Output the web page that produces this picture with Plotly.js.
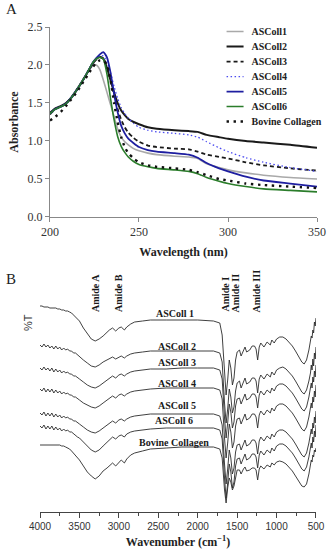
<!DOCTYPE html>
<html><head><meta charset="utf-8">
<script src="https://cdn.plot.ly/plotly-3.0.1.min.js"></script>
<style>html,body{margin:0;padding:0;background:#fff}#chart{width:328px;height:550px}</style>
</head><body><div id="chart"></div>
<script>
// ---------- Panel A: UV absorbance ----------
const wavelength = [200,203,206,209,212,215,218,221,224,226,228,230,232,234,236,238,240,242,244,247,250,255,260,270,278,283,288,295,300,310,320,335,350];
const uvASColl1 = [1.36,1.42,1.45,1.50,1.58,1.68,1.79,1.90,1.99,2.00,1.94,1.80,1.64,1.48,1.32,1.16,1.05,0.99,0.95,0.90,0.87,0.84,0.82,0.80,0.79,0.77,0.70,0.65,0.62,0.58,0.55,0.52,0.50];
const uvASColl2 = [1.37,1.43,1.46,1.50,1.57,1.67,1.78,1.90,2.02,2.08,2.11,2.08,1.96,1.80,1.64,1.50,1.40,1.34,1.29,1.25,1.22,1.18,1.16,1.14,1.13,1.12,1.08,1.05,1.03,1.00,0.98,0.95,0.91];
const uvASColl3 = [1.35,1.42,1.45,1.49,1.57,1.67,1.78,1.90,2.02,2.07,2.10,2.09,1.98,1.80,1.60,1.42,1.28,1.18,1.11,1.04,0.99,0.94,0.92,0.90,0.89,0.86,0.82,0.79,0.77,0.72,0.68,0.64,0.61];
const uvASColl4 = [1.36,1.42,1.45,1.49,1.57,1.67,1.78,1.90,2.03,2.08,2.12,2.12,2.04,1.90,1.72,1.56,1.44,1.36,1.30,1.23,1.18,1.14,1.12,1.10,1.08,1.05,0.99,0.91,0.86,0.78,0.72,0.65,0.60];
const uvASColl5 = [1.36,1.42,1.45,1.49,1.57,1.67,1.78,1.90,2.03,2.09,2.14,2.17,2.10,1.90,1.62,1.38,1.20,1.10,1.03,0.97,0.92,0.88,0.86,0.84,0.82,0.78,0.71,0.64,0.60,0.53,0.48,0.44,0.40];
const uvASColl6 = [1.36,1.42,1.45,1.49,1.57,1.67,1.78,1.90,2.03,2.08,2.10,2.08,1.88,1.56,1.28,1.06,0.93,0.85,0.79,0.73,0.69,0.66,0.64,0.62,0.60,0.57,0.52,0.47,0.44,0.40,0.37,0.35,0.33];
const uvBovine = [1.27,1.32,1.38,1.46,1.55,1.64,1.75,1.86,1.97,2.03,2.06,2.06,2.00,1.80,1.50,1.25,1.05,0.92,0.84,0.77,0.72,0.68,0.66,0.64,0.62,0.59,0.55,0.50,0.48,0.44,0.42,0.40,0.38];
const uvNames = ['ASColl1','ASColl2','ASColl3','ASColl4','ASColl5','ASColl6','Bovine Collagen'];

// ---------- Panel B: FTIR (offset %T, arbitrary units) ----------
const wavenumber = [4000,3975,3950,3925,3900,3875,3850,3825,3800,3775,3750,3725,3700,3675,3650,3625,3600,3575,3550,3525,3500,
 3450,3400,3350,3300,3250,3200,3150,3120,3080,3040,3000,2970,2930,2900,2850,2800,
 2700,2600,2400,2200,2000,1800,
 1720,1690,1660,1640,1620,1600,1580,1560,1540,1520,1500,1470,1450,1420,1400,1380,1340,1310,1280,1260,1240,1220,1200,1160,1120,1080,1060,1030,1000,960,920,880,840,800,760,720,680,650,620,590,
 570,560,550,540,530,520,510,500];
const irASColl1 = [244,244,243,243,243,242,242,242,242,241,241,240,240,239,239,238,237,235,233,231,229,
 222,216,211,209,211,214,218,220,222,219,222,223,220,223,226,228,
 229,230,230,230,230,229,
 227,215,175,155,170,190,182,165,172,190,198,200,194,200,203,198,200,204,204,201,190,203,207,203,208,205,210,207,211,213,213,211,208,204,199,193,188,186,190,200,
 208,214,212,220,217,228,224,232];
const irASColl2 = [205,203,206,203,205,202,204,201,204,201,203,200,202,200,201,199,199,197,197,195,194,
 190,187,184,183,185,188,190,191,193,191,193,194,192,194,196,197,
 198,199,199,199,199,199,
 197,188,147,127,141,161,153,137,143,159,167,169,162,169,172,166,168,172,172,169,157,171,175,171,176,173,178,175,180,182,183,181,178,174,169,163,158,156,160,169,
 177,185,180,191,184,197,191,203];
const irASColl3 = [182,180,183,180,182,179,182,178,181,178,180,177,179,177,178,176,176,174,174,172,171,
 168,165,163,162,164,167,170,171,174,172,175,176,174,176,178,179,
 180,181,181,182,182,182,
 180,171,132,112,127,146,138,122,128,144,151,152,146,153,156,150,152,156,156,153,142,155,159,155,160,157,162,159,164,166,166,164,161,157,152,146,141,139,143,153,
 161,167,162,173,168,179,173,185];
const irASColl4 = [161,159,162,158,161,158,161,157,160,157,159,156,158,156,157,155,155,153,153,151,150,
 147,145,143,142,144,147,150,151,154,152,155,156,154,156,158,159,
 160,161,162,162,162,162,
 160,151,112,92,107,126,118,102,108,124,131,132,126,133,136,130,132,136,136,133,122,135,139,135,140,137,142,139,144,146,146,144,141,137,132,126,121,119,123,133,
 141,147,142,153,148,159,153,165];
const irASColl5 = [137,135,138,134,137,134,137,133,136,133,135,132,134,132,133,131,131,129,129,127,126,
 123,120,118,117,119,122,125,126,129,127,130,131,129,131,133,134,
 135,136,136,136,136,136,
 134,125,86,66,81,100,92,76,82,98,105,106,100,107,110,104,106,110,110,107,96,109,113,109,114,111,116,113,118,120,120,118,115,111,106,100,95,93,97,107,
 115,121,116,127,122,133,127,139];
const irASColl6 = [124,122,125,121,124,121,124,120,123,120,122,119,121,119,120,118,118,116,115,113,112,
 108,104,100,98,100,104,108,110,113,111,114,115,113,116,118,119,
 120,121,122,122,122,122,
 120,111,72,52,67,86,78,62,68,84,91,92,86,93,96,90,92,96,96,93,82,95,99,95,100,97,102,99,104,106,106,104,101,97,92,86,81,79,83,93,
 101,107,102,113,108,119,113,125];
const irBovine = [105,105,105,105,105,105,105,105,105,105,105,104,104,103,102,101,99,97,95,93,90,
 84,78,74,71,74,79,82,84,87,84,88,90,87,91,95,97,
 99,101,102,103,103,103,
 101,92,60,47,62,72,68,60,64,74,80,80,76,81,83,79,80,82,82,80,70,81,84,81,85,83,87,85,88,89,88,86,83,79,74,69,64,63,66,76,
 84,90,88,95,93,100,98,102];
const irLabels = ['ASColl 1','ASColl 2','ASColl 3','ASColl 4','ASColl 5','ASColl 6','Bovine Collagen'];
const amideLabels = ['Amide A','Amide B','Amide I','Amide II','Amide III'];
const amidePositions = [3303,3011,1641,1515,1249];

const serif = 'Liberation Serif, Times New Roman, serif';
const sans = 'Liberation Sans, Arial, sans-serif';

const uvSeries = [uvASColl1,uvASColl2,uvASColl3,uvASColl4,uvASColl5,uvASColl6,uvBovine];
const uvStyles = [
  {color:'#a9a9a9', width:1.6},
  {color:'#1a1a1a', width:2},
  {color:'#1a1a1a', width:1.8, dash:'4px,3px'},
  {color:'#4b4bf0', width:1.3, dash:'1.5px,2.5px'},
  {color:'#1e1ea0', width:1.8},
  {color:'#2b7d2b', width:1.6},
  {color:'#111111', width:2.4, dash:'2.4px,4.6px'}
];
const traces = [];
uvSeries.forEach((s,i)=>{
  traces.push({x:wavelength, y:s, type:'scatter', mode:'lines', name:uvNames[i],
    line:Object.assign({shape:'spline', smoothing:0.5}, uvStyles[i]), xaxis:'x', yaxis:'y'});
});
const irSeries = [irASColl1,irASColl2,irASColl3,irASColl4,irASColl5,irASColl6,irBovine];
irSeries.forEach((s,i)=>{
  traces.push({x:wavenumber, y:s, type:'scatter', mode:'lines', name:irLabels[i], showlegend:false,
    line:{color:'#2b2b2b', width:0.9}, xaxis:'x2', yaxis:'y2'});
});

// label anchor points (text positions) for FTIR curves
const irLabelX = [2288,2263,2263,2263,2263,2300,2295];
const irLabelY = [237,204,188,167,145,130,108];

const annotations = [];
annotations.push({text:'A', xref:'paper', yref:'paper', x:0.012, y:0.983, xanchor:'left', yanchor:'middle', showarrow:false, font:{family:serif, size:15, color:'#222'}});
annotations.push({text:'B', xref:'paper', yref:'paper', x:0.012, y:0.4927, xanchor:'left', yanchor:'middle', showarrow:false, font:{family:serif, size:15, color:'#222'}});
annotations.push({text:'%T', xref:'paper', yref:'paper', x:0.0854, y:0.4127, xanchor:'center', yanchor:'middle', textangle:-90, showarrow:false, font:{family:sans, size:11, color:'#333'}});
irLabels.forEach((t,i)=>{
  annotations.push({text:t, xref:'x2', yref:'y2', x:irLabelX[i], y:irLabelY[i], xanchor:'center', yanchor:'middle', showarrow:false, font:{family:serif, size:10, color:'#1a1a1a', weight:700}});
});
amideLabels.forEach((t,i)=>{
  annotations.push({text:t, xref:'x2', yref:'paper', x:amidePositions[i], y:0.429, xanchor:'center', yanchor:'bottom', textangle:-90, showarrow:false, font:{family:serif, size:10, color:'#1a1a1a', weight:700}});
});

const layout = {
  width:328, height:550, margin:{l:0,r:0,t:0,b:0},
  paper_bgcolor:'#ffffff', plot_bgcolor:'rgba(0,0,0,0)',
  showlegend:true,
  legend:{x:0.645, y:0.969, xanchor:'left', yanchor:'top', bgcolor:'rgba(0,0,0,0)', borderwidth:0,
    font:{family:serif, size:10, color:'#222', weight:700}, tracegroupgap:0},
  xaxis:{domain:[0.1524,0.9665], range:[200,350], tickvals:[200,250,300,350], ticks:'outside', ticklen:4, tickcolor:'#888',
    showline:true, linecolor:'#888', linewidth:1, showgrid:false, zeroline:false, anchor:'y',
    tickfont:{family:serif, size:12, color:'#333'},
    title:{text:'Wavelength (nm)', font:{family:serif, size:12, color:'#222', weight:700}, standoff:9}},
  yaxis:{domain:[0.6055,0.9509], range:[0,2.5], dtick:0.5, tickformat:'.1f', ticks:'outside', ticklen:4, tickcolor:'#888',
    showline:true, linecolor:'#888', linewidth:1, showgrid:false, zeroline:false, anchor:'x',
    tickfont:{family:serif, size:12, color:'#333'},
    title:{text:'Absorbance', font:{family:serif, size:12, color:'#222', weight:700}, standoff:6}},
  xaxis2:{domain:[0.122,0.9634], range:[4000,500], tick0:500, dtick:500, ticks:'outside', ticklen:5, tickcolor:'#444',
    minor:{dtick:250, ticks:'outside', ticklen:3, tickcolor:'#444'},
    showline:true, linecolor:'#444', linewidth:1, showgrid:false, zeroline:false, anchor:'y2',
    tickfont:{family:sans, size:10, color:'#333'},
    title:{text:'Wavenumber (cm<sup>−1</sup>)', font:{family:serif, size:12, color:'#222', weight:700}, standoff:6}},
  yaxis2:{domain:[0.0691,0.4727], range:[38,260], visible:false, anchor:'x2'},
  annotations:annotations
};
Plotly.newPlot('chart', traces, layout, {displayModeBar:false, staticPlot:true}).then(gd=>{
  // tighten legend row spacing to 15px and shorten the line samples, as in the reference
  const items = gd.querySelectorAll('.legend .traces');
  let y0 = null;
  items.forEach((el,i)=>{
    const tr = el.getAttribute('transform') || '';
    const m = /translate\(\s*([-\d.e]+)[\s,]+([-\d.e]+)\s*\)/.exec(tr);
    if(!m) return;
    if(y0===null) y0 = parseFloat(m[2]);
    el.setAttribute('transform', 'translate(' + m[1] + ',' + (y0 + i*15) + ')');
  });
  gd.querySelectorAll('.legend .legendlines path').forEach(p=>p.setAttribute('d','M15,0h17'));
});
</script>
</body></html>
